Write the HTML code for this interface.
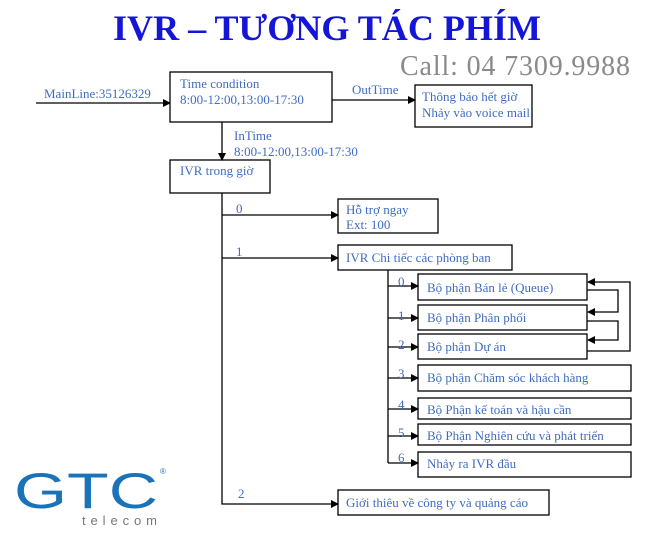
<!DOCTYPE html>
<html><head><meta charset="utf-8"><style>
html,body{margin:0;padding:0;background:#fff;}
svg{display:block;}
.t{font-family:"Liberation Serif",serif;font-size:13px;fill:#3f6cc0;}
</style></head><body>
<svg width="663" height="544" viewBox="0 0 663 544" xmlns="http://www.w3.org/2000/svg">
<defs><marker id="a" markerWidth="8" markerHeight="8" refX="7" refY="4" orient="auto" markerUnits="userSpaceOnUse"><path d="M0,0 L8,4 L0,8 z" fill="#000"/></marker></defs>
<text x="113" y="40" font-family="Liberation Serif,serif" font-weight="bold" font-size="36" fill="#1515d8" textLength="428" lengthAdjust="spacingAndGlyphs">IVR – TƯƠNG TÁC PHÍM</text>
<text x="400" y="75" font-family="Liberation Serif,serif" font-size="28" fill="#8a8a8a" textLength="230">Call: 04 7309.9988</text>
<g stroke="#000" stroke-width="1.3" fill="none">
<line x1="36" y1="103" x2="170" y2="103" marker-end="url(#a)"/>
<rect x="170" y="72" width="162" height="50" fill="#fff"/>
<line x1="332" y1="100" x2="415" y2="100" marker-end="url(#a)"/>
<rect x="415" y="85" width="117" height="42"/>
<line x1="222" y1="122" x2="222" y2="160" marker-end="url(#a)"/>
<rect x="170" y="160" width="100" height="33"/>
<polyline points="222,193 222,504 338,504" marker-end="url(#a)"/>
<line x1="222" y1="215" x2="338" y2="215" marker-end="url(#a)"/>
<rect x="338" y="199" width="100" height="34"/>
<line x1="222" y1="258" x2="338" y2="258" marker-end="url(#a)"/>
<rect x="338" y="245" width="174" height="25"/>
<line x1="388" y1="270" x2="388" y2="463"/>
<line x1="388" y1="286" x2="418" y2="286" marker-end="url(#a)"/>
<line x1="388" y1="318" x2="418" y2="318" marker-end="url(#a)"/>
<line x1="388" y1="347" x2="418" y2="347" marker-end="url(#a)"/>
<line x1="388" y1="378" x2="418" y2="378" marker-end="url(#a)"/>
<line x1="388" y1="409" x2="418" y2="409" marker-end="url(#a)"/>
<line x1="388" y1="436" x2="418" y2="436" marker-end="url(#a)"/>
<line x1="388" y1="463" x2="418" y2="463" marker-end="url(#a)"/>
<rect x="418" y="274" width="169" height="26"/>
<rect x="418" y="305" width="169" height="25"/>
<rect x="418" y="334" width="169" height="25"/>
<rect x="418" y="365" width="213" height="26"/>
<rect x="418" y="398" width="213" height="21"/>
<rect x="418" y="424" width="213" height="21"/>
<rect x="418" y="452" width="213" height="25"/>
<polyline points="587,290 618,290 618,312 588,312" marker-end="url(#a)"/>
<polyline points="587,321 618,321 618,340 588,340" marker-end="url(#a)"/>
<polyline points="587,351 630,351 630,282 588,282" marker-end="url(#a)"/>
<rect x="338" y="490" width="211" height="25"/>
</g>
<text class="t" x="44" y="98">MainLine:35126329</text>
<text class="t" x="180" y="88">Time  condition</text>
<text class="t" x="180" y="104">8:00-12:00,13:00-17:30</text>
<text class="t" x="352" y="94">OutTime</text>
<text class="t" x="422" y="101">Thông  báo hết giờ</text>
<text class="t" x="422" y="117">Nhảy vào voice mail</text>
<text class="t" x="234" y="140">InTime</text>
<text class="t" x="234" y="156">8:00-12:00,13:00-17:30</text>
<text class="t" x="180" y="175">IVR trong giờ</text>
<text class="t" x="236" y="213">0</text>
<text class="t" x="346" y="214">Hỗ trợ ngay</text>
<text class="t" x="346" y="229">Ext: 100</text>
<text class="t" x="236" y="256">1</text>
<text class="t" x="346" y="262">IVR Chi tiếc các phòng ban</text>
<text class="t" x="398" y="286">0</text>
<text class="t" x="427" y="292">Bộ phận Bán lẻ (Queue)</text>
<text class="t" x="398" y="320">1</text>
<text class="t" x="427" y="322">Bộ phận Phân phối</text>
<text class="t" x="398" y="349">2</text>
<text class="t" x="427" y="351">Bộ phận Dự án</text>
<text class="t" x="398" y="378">3</text>
<text class="t" x="427" y="382">Bộ phận Chăm sóc khách hàng</text>
<text class="t" x="398" y="409">4</text>
<text class="t" x="427" y="414">Bộ Phận kế toán và hậu cần</text>
<text class="t" x="398" y="437">5</text>
<text class="t" x="427" y="440">Bộ Phận Nghiên  cứu và phát triển</text>
<text class="t" x="398" y="462">6</text>
<text class="t" x="427" y="468">Nhảy ra IVR đầu</text>
<text class="t" x="238" y="498">2</text>
<text class="t" x="346" y="507">Giới thiêu về công ty và quảng cáo</text>
<text x="14" y="508" font-family="Liberation Sans,sans-serif" font-size="50" fill="#1a73b9" textLength="144" lengthAdjust="spacingAndGlyphs">GTC</text>
<text x="160" y="474" font-family="Liberation Sans,sans-serif" font-size="8" fill="#1a73b9">®</text>
<text x="82" y="525" font-family="Liberation Sans,sans-serif" font-size="13" fill="#777" textLength="75">telecom</text>
</svg>
</body></html>
